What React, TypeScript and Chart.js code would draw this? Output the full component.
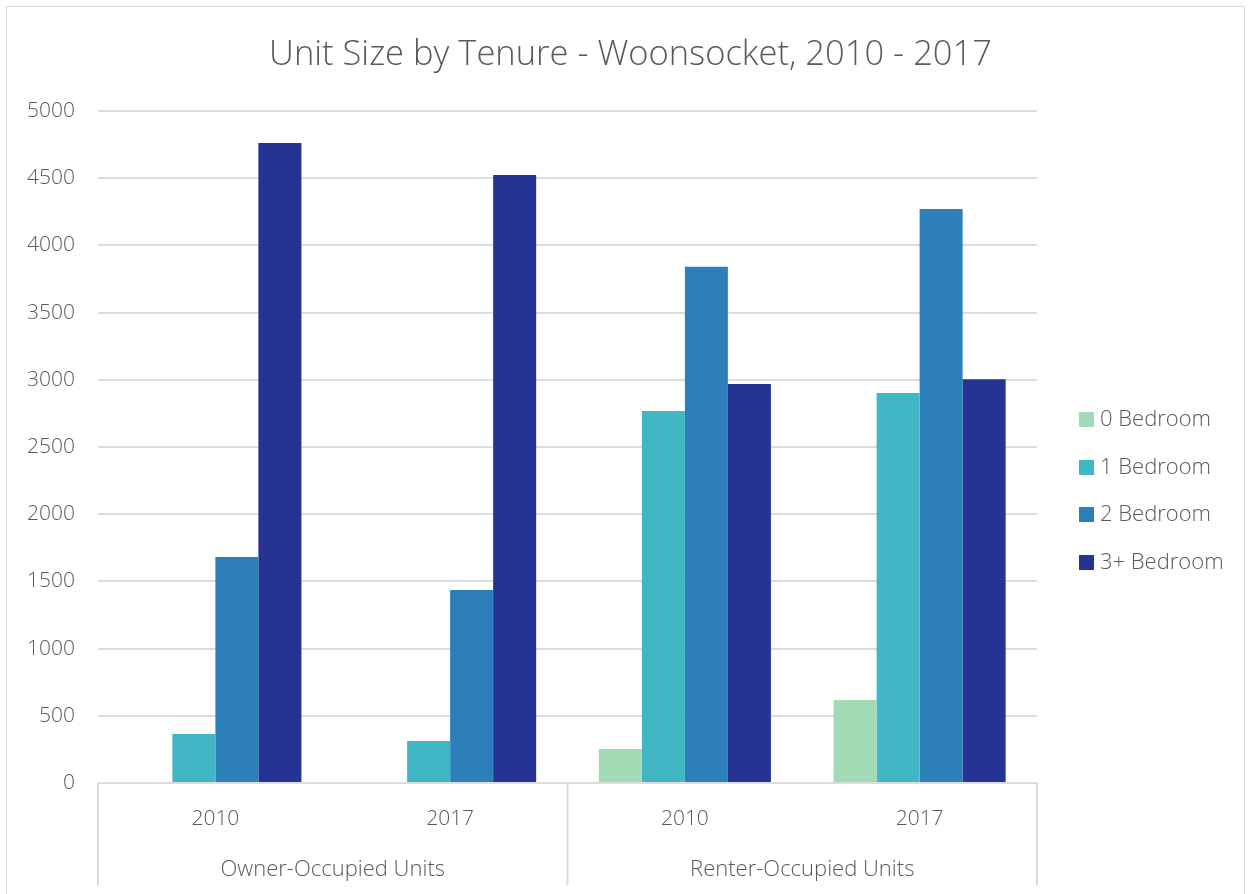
import React, { useEffect, useRef } from "react";
import { Chart, registerables } from "chart.js";

Chart.register(...registerables);

const titleText = "Unit Size by Tenure - Woonsocket, 2010 - 2017";
const categories = ["2010", "2017", "2010", "2017"];
const groups = ["Owner-Occupied Units", "Renter-Occupied Units"];
const seriesNames = ["0 Bedroom", "1 Bedroom", "2 Bedroom", "3+ Bedroom"];
const bed0 = [0, 0, 253, 618];
const bed1 = [365, 312, 2768, 2902];
const bed2 = [1682, 1436, 3842, 4271];
const bed3 = [4762, 4524, 2969, 3004];
const seriesColors = ["#a1dab4", "#41b6c4", "#2c7fb8", "#253494"];
const yMax = 5000;
const yStep = 500;

const FONT = "'Open Sans', 'Noto Sans', sans-serif";
const TEXT = "#595959";

const extrasPlugin = {
  id: "extras",
  afterDraw(chart: any) {
    const ctx = chart.ctx;
    const area = chart.chartArea;
    const W = chart.width;
    ctx.save();
    // title
    ctx.fillStyle = TEXT;
    ctx.font = `300 34.5px ${FONT}`;
    ctx.textAlign = "center";
    ctx.textBaseline = "middle";
    ctx.fillText(titleText, W / 2 + 5, 48);

    // separators for groups
    ctx.strokeStyle = "#d9d9d9";
    ctx.lineWidth = 2;
    const mid = (area.left + area.right) / 2;
    [area.left, mid, area.right].forEach((x) => {
      ctx.beginPath();
      ctx.moveTo(x, area.bottom);
      ctx.lineTo(x, 878);
      ctx.stroke();
    });

    // group labels
    ctx.font = `300 22px ${FONT}`;
    ctx.fillStyle = TEXT;
    ctx.textAlign = "center";
    ctx.textBaseline = "middle";
    ctx.fillText(groups[0], (area.left + mid) / 2, 863);
    ctx.fillText(groups[1], (mid + area.right) / 2, 863);

    // legend
    const ys = [412, 460, 507, 555];
    seriesNames.forEach((name, i) => {
      ctx.fillStyle = seriesColors[i];
      ctx.fillRect(1072, ys[i] - 7, 15, 15);
      ctx.fillStyle = TEXT;
      ctx.textAlign = "left";
      ctx.fillText(name, 1093, ys[i] + 1);
    });
    ctx.restore();
  },
};

export default function App() {
  const ref = useRef<HTMLCanvasElement | null>(null);
  useEffect(() => {
    if (!ref.current) return;
    const datasets = [bed0, bed1, bed2, bed3].map((d, i) => ({
      label: seriesNames[i],
      data: d,
      backgroundColor: seriesColors[i],
      borderWidth: 0,
      categoryPercentage: 0.733,
      barPercentage: 1.0,
    }));
    const chart = new Chart(ref.current, {
      type: "bar",
      data: { labels: categories, datasets },
      options: {
        responsive: false,
        animation: false,
        layout: { padding: { top: 104, right: 207, left: 0, bottom: 0 } },
        plugins: {
          legend: { display: false },
          title: { display: false },
          tooltip: { enabled: false },
        },
        scales: {
          x: {
            grid: { display: false, drawTicks: false },
            border: { display: false },
            ticks: {
              color: TEXT,
              font: { family: FONT, size: 21, weight: "300" as any },
              padding: 23,
              maxRotation: 0,
            },
            afterFit: (axis: any) => {
              axis.height = 122;
            },
          },
          y: {
            min: 0,
            max: yMax,
            ticks: {
              stepSize: yStep,
              color: TEXT,
              font: { family: FONT, size: 21, weight: "300" as any },
              padding: 23,
              callback: (v: any) => String(v),
            },
            grid: { color: "#dcdcdc", lineWidth: 2, drawTicks: false },
            border: { display: false },
            afterFit: (axis: any) => {
              axis.width = 91;
            },
          },
        },
      },
      plugins: [extrasPlugin],
    });
    return () => chart.destroy();
  }, []);

  return (
    <div
      style={{
        position: "fixed",
        left: 6,
        top: 6,
        width: 1239,
        height: 900,
        border: "1px solid #d9d9d9",
        boxSizing: "border-box",
        background: "#fff",
      }}
    >
      <canvas ref={ref} width={1237} height={898} style={{ display: "block" }} />
    </div>
  );
}
